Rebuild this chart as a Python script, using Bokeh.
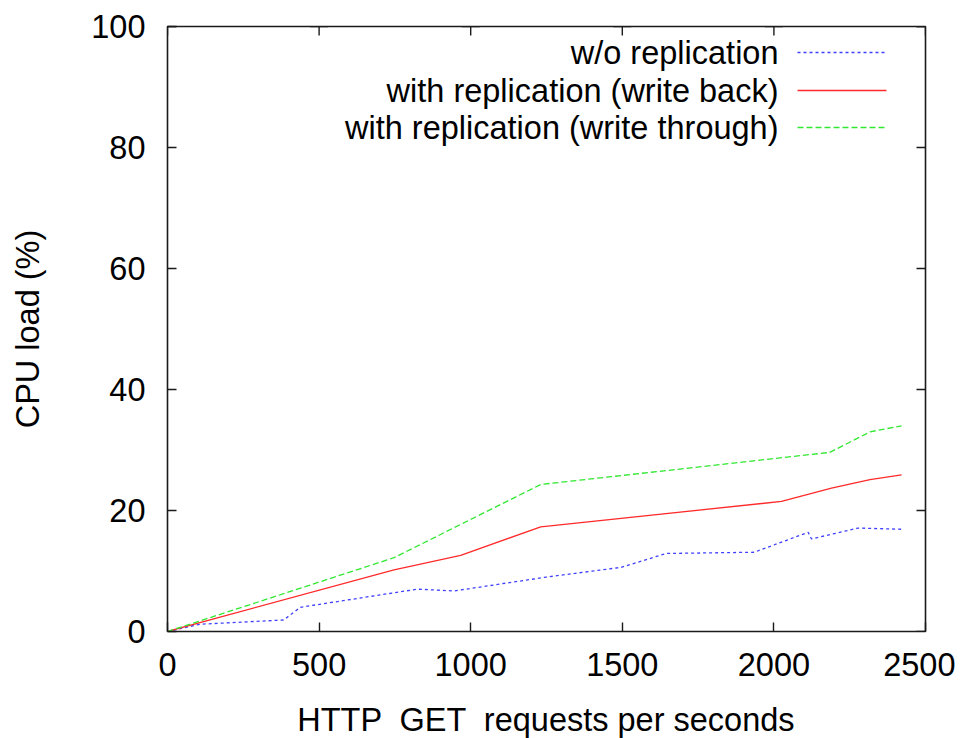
from bokeh.plotting import figure
from bokeh.models import Range1d, FixedTicker, Label, Arrow
from bokeh.embed import file_html
from bokeh.resources import INLINE

# ---- data ----
x_ticks = [0, 500, 1000, 1500, 2000, 2500]
y_ticks = [0, 20, 40, 60, 80, 100]

series_names = ["w/o replication",
                "with replication (write back)",
                "with replication (write through)"]
series_colors = ["#4040ff", "#ff2a2a", "#30e830"]
series_dashes = ["3 3", "solid", "6 3"]

x_norep = [0, 107, 383, 438, 824, 945, 1250, 1496, 1645, 1935, 2113, 2124, 2278, 2421]
y_norep = [0, 1.2, 1.9, 4.0, 7.0, 6.7, 9.0, 10.6, 12.9, 13.1, 16.4, 15.3, 17.1, 16.9]

x_wb = [0, 747, 967, 1231, 2025, 2190, 2317, 2421]
y_wb = [0, 10.2, 12.6, 17.3, 21.5, 23.7, 25.1, 25.9]

x_wt = [0, 747, 1231, 2184, 2317, 2421]
y_wt = [0, 12.2, 24.3, 29.6, 33.0, 34.0]

FONT = "Liberation Sans"
FS = "32.5px"
TICK_COLOR = "#1a1a1a"

p = figure(frame_width=758, frame_height=605,
           x_range=Range1d(x_ticks[0], x_ticks[-1]), y_range=Range1d(y_ticks[0], y_ticks[-1]),
           output_backend="svg", toolbar_location=None,
           min_border_left=167, min_border_top=26, min_border_right=30,
           min_border_bottom=10)
p.xgrid.visible = False
p.ygrid.visible = False
p.outline_line_color = TICK_COLOR
p.outline_line_width = 1.6
p.background_fill_color = "white"
p.border_fill_color = "white"

def style_axis(ax, ticks):
    ax.ticker = FixedTicker(ticks=ticks)
    ax.major_tick_in = 9
    ax.major_tick_out = 0
    ax.minor_tick_in = 0
    ax.minor_tick_out = 0
    ax.major_tick_line_color = TICK_COLOR
    ax.major_tick_line_width = 1.4
    ax.axis_line_color = None
    ax.major_label_text_font = FONT
    ax.major_label_text_font_size = FS
    ax.major_label_text_color = "black"
    ax.axis_label_text_font = FONT
    ax.axis_label_text_font_size = FS
    ax.axis_label_text_font_style = "normal"
    ax.axis_label_text_color = "black"

xa = p.xaxis[0]
style_axis(xa, x_ticks)
xa.axis_label = "HTTP \u00a0GET \u00a0requests per seconds"
xa.major_label_standoff = 21
xa.axis_label_standoff = 23

ya = p.yaxis[0]
style_axis(ya, y_ticks)
ya.axis_label = "CPU load (%)"
ya.major_label_standoff = 22
ya.axis_label_standoff = 42

# mirrored inward ticks on the top and right edges (clipped to the frame)
p.scatter(x_ticks, [y_ticks[-1]] * len(x_ticks), marker="cross", size=18,
          line_color=TICK_COLOR, line_width=1.4)
p.scatter([x_ticks[-1]] * len(y_ticks), y_ticks, marker="dash", size=18,
          line_color=TICK_COLOR, line_width=1.4)

for xs, ys, c, d in zip((x_norep, x_wb, x_wt), (y_norep, y_wb, y_wt),
                        series_colors, series_dashes):
    p.line(xs, ys, line_color=c, line_width=1.3, line_dash=d)

# gnuplot-style key: right-aligned text followed by the line sample
for name, c, d, ypos in zip(series_names, series_colors, series_dashes, [579, 541, 504]):
    p.add_layout(Label(x=611, y=ypos, x_units="screen", y_units="screen",
                       text=name, text_align="right", text_baseline="middle",
                       text_font=FONT, text_font_size=FS, text_color="black"))
    p.add_layout(Arrow(start=None, end=None,
                       x_start=630, x_end=719, y_start=ypos, y_end=ypos,
                       start_units="screen", end_units="screen",
                       line_color=c, line_width=1.3, line_dash=d))

html = file_html(p, INLINE)
open("out.html", "w").write(html)
